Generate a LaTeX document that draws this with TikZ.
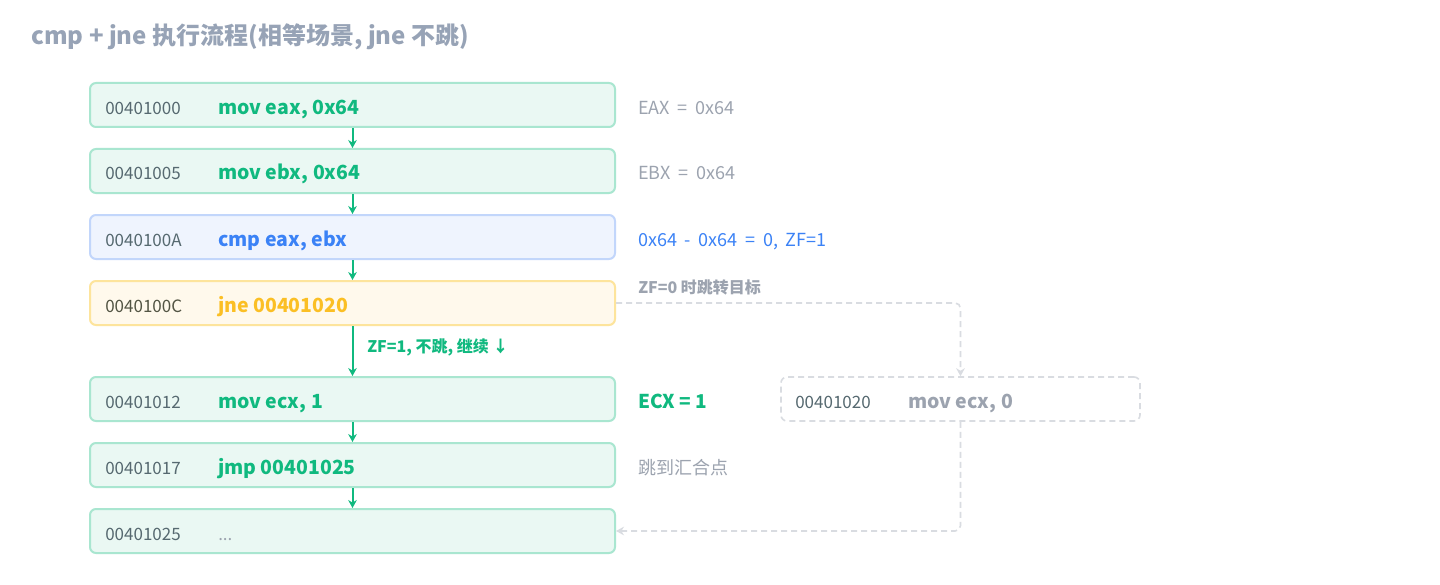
\documentclass[tikz,border=0pt]{standalone}
\usepackage{fontspec}
\setmainfont{Noto Sans CJK SC}
\newfontfamily\wfont{Noto Sans CJK SC}[WordSpace=1.9]
\usetikzlibrary{arrows.meta}
\definecolor{grn}{HTML}{10B97F}
\definecolor{grnfill}{HTML}{EAF8F3}
\definecolor{grnline}{HTML}{A9E6D0}
\definecolor{blu}{HTML}{3B82F6}
\definecolor{blufill}{HTML}{EFF4FE}
\definecolor{bluline}{HTML}{C2D6FB}
\definecolor{ylw}{HTML}{FBBF24}
\definecolor{ylwfill}{HTML}{FFF9EC}
\definecolor{ylwline}{HTML}{FDE49C}
\definecolor{addr}{HTML}{566970}
\definecolor{note}{HTML}{9CA3AF}
\definecolor{ttl}{HTML}{97A3B6}
\definecolor{dsh}{HTML}{D9DCE1}
\tikzset{
  box/.style={rectangle, rounded corners=4.5pt, line width=1.5pt, minimum width=393.75pt, minimum height=33pt, inner sep=0pt},
  gbox/.style={box, draw=grnline, fill=grnfill},
  bbox/.style={box, draw=bluline, fill=blufill},
  ybox/.style={box, draw=ylwline, fill=ylwfill},
  sbox/.style={rectangle, rounded corners=4.5pt, line width=1.2pt, draw=dsh, dash pattern=on 4.5pt off 3pt, minimum width=269.25pt, minimum height=33pt, inner sep=0pt},
  addrtxt/.style={anchor=base west, inner sep=0pt, font=\fontsize{12.75pt}{15pt}\selectfont, text=addr},
  instr/.style={anchor=base west, inner sep=0pt, font=\fontsize{14.6pt}{17pt}\selectfont\bfseries},
  notetxt/.style={anchor=base west, inner sep=0pt, font=\wfont\fontsize{13.5pt}{16pt}\selectfont, text=note},
  flow/.style={draw=grn, line width=1.5pt, -{Stealth[length=6pt,width=6.5pt]}},
  dashflow/.style={draw=dsh, line width=1.2pt, dash pattern=on 4.5pt off 3pt, rounded corners=4pt, -{Stealth[length=6pt,width=6.5pt]}},
}
\begin{document}
\begin{tikzpicture}[x=0.75pt,y=-0.75pt]
\useasboundingbox[fill=white] (0,0) rectangle (1440,585);
\node[anchor=base west, inner sep=0pt, text=ttl, font=\fontsize{18pt}{21pt}\selectfont\bfseries] (title) at (31,45) {cmp + jne 执行流程(相等场景, jne 不跳)};

\node[gbox] (b1) at (352.5,105) {};
\node[gbox] (b2) at (352.5,171) {};
\node[bbox] (b3) at (352.5,237) {};
\node[ybox] (b4) at (352.5,303) {};
\node[gbox] (b5) at (352.5,399) {};
\node[gbox] (b6) at (352.5,465) {};
\node[gbox] (b7) at (352.5,531) {};
\node[sbox] (s) at (960.5,399) {};

\node[addrtxt] (a1) at (105,114) {00401000};
\node[addrtxt] (a2) at (105,180) {00401005};
\node[addrtxt] (a3) at (105,246) {0040100A};
\node[addrtxt, text=addr!80!ylw!70!black] (a4) at (105,312) {0040100C};
\node[addrtxt] (a5) at (105,408) {00401012};
\node[addrtxt] (a6) at (105,474) {00401017};
\node[addrtxt] (a7) at (105,540) {00401025};
\node[addrtxt] (as) at (795,408) {00401020};

\node[instr, text=grn] (i1) at (218,114) {mov eax, 0x64};
\node[instr, text=grn] (i2) at (218,180) {mov ebx, 0x64};
\node[instr, text=blu] (i3) at (218,246) {cmp eax, ebx};
\node[instr, text=ylw] (i4) at (218,312) {jne 00401020};
\node[instr, text=grn] (i5) at (218,408) {mov ecx, 1};
\node[instr, text=grn] (i6) at (218,474) {jmp 00401025};
\node[addrtxt, text=note] (i7) at (218,540) {...};
\node[instr, text=note] (is) at (908,408) {mov ecx, 0};

\node[notetxt] (n1) at (638,114) {EAX = 0x64};
\node[notetxt] (n2) at (638,180) {EBX = 0x64};
\node[notetxt, text=blu] (n3) at (638,246) {0x64 - 0x64 = 0, ZF=1};
\node[notetxt, text=note, font=\fontsize{12pt}{14pt}\selectfont\bfseries] (n4) at (638,293) {ZF=0 时跳转目标};
\node[notetxt, text=grn, font=\fontsize{14.3pt}{17pt}\selectfont\bfseries] (n5) at (638,408) {ECX = 1};
\node[notetxt] (n6) at (638,474) {跳到汇合点};

\draw[flow] (b1) -- (b2);
\draw[flow] (b2) -- (b3);
\draw[flow] (b3) -- (b4);
\draw[flow] (b4) -- (b5);
\node[anchor=base west, inner sep=0pt, text=grn, font=\fontsize{12pt}{14pt}\selectfont\bfseries] (lbl) at (367,352) {ZF=1, 不跳, 继续 ↓};
\draw[flow] (b5) -- (b6);
\draw[flow] (b6) -- (b7);
\draw[dashflow] (b4.east) -| (s.north);
\draw[dashflow] (s.south) |- (b7.east);
\end{tikzpicture}
\end{document}
